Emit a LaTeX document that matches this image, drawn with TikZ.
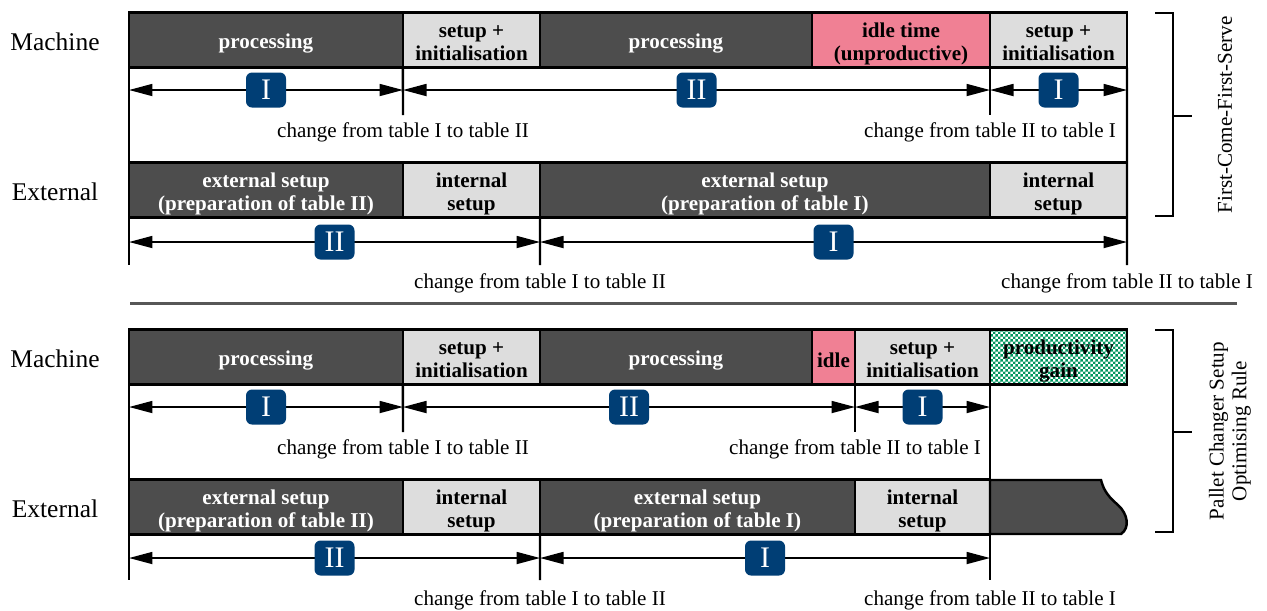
\documentclass[tikz,border=0pt]{standalone}
\usepackage{fontspec}
\setmainfont{Liberation Serif}
\usetikzlibrary{arrows.meta, patterns}
\definecolor{busygrey}{RGB}{77,77,77}
\definecolor{setupgrey}{RGB}{221,221,221}
\definecolor{idlepink}{RGB}{240,128,148}
\definecolor{tableblue}{RGB}{0,62,117}
\definecolor{gaingreen}{RGB}{0,150,95}
\pgfdeclarepatternformonly{finechecker}{\pgfqpoint{0pt}{0pt}}{\pgfqpoint{2.8pt}{2.8pt}}{\pgfqpoint{2.8pt}{2.8pt}}{%
	\pgfpathrectangle{\pgfqpoint{0pt}{0pt}}{\pgfqpoint{1.4pt}{1.4pt}}%
	\pgfpathrectangle{\pgfqpoint{1.4pt}{1.4pt}}{\pgfqpoint{1.4pt}{1.4pt}}%
	\pgfusepath{fill}}

\begin{document}
\begin{tikzpicture}[x=0.02cm, y=-0.02cm]
	\tikzstyle{slotbox}=[rectangle, draw=black, line width=1.4pt, outer sep=0pt,
	inner sep=1pt, minimum height=1.1cm, anchor=west, align=center,
	font=\fontsize{12}{13}\selectfont\bfseries,
	execute at begin node={\rule{0pt}{12.3pt}}]
	\tikzstyle{twoline}=[text height=25.9pt, text depth=2.6pt]
	\tikzstyle{busyslot}=[slotbox, fill=busygrey, text=white]
	\tikzstyle{setupslot}=[slotbox, twoline, fill=setupgrey]
	\tikzstyle{idleslot}=[slotbox, fill=idlepink]
	\tikzstyle{gainslot}=[slotbox, twoline, pattern=finechecker, pattern color=gaingreen]
	\tikzstyle{spanarrow}=[line width=1pt,
	{Triangle[length=0.47cm, width=0.24cm]}-{Triangle[length=0.47cm, width=0.24cm]}]
	\tikzstyle{cutline}=[line width=1.4pt]
	\tikzstyle{tablebox}=[rectangle, fill=tableblue, text=white, rounded corners=0.12cm,
	minimum width=0.8cm, minimum height=0.7cm, inner sep=0pt,
	font=\fontsize{17}{17}\selectfont]
	\tikzstyle{changelabel}=[anchor=base, font=\fontsize{12}{13}\selectfont]
	\tikzstyle{lane}=[anchor=base, font=\fontsize{14.5}{15}\selectfont]
	
	\useasboundingbox (0,0) rectangle (1267,610);
	
	% first come first serve
	\node[lane] (fmach) at (55,50) {Machine};
	\node[busyslot, minimum width=5.48cm] (fm1) at (129,40) {processing};
	\node[setupslot, minimum width=2.74cm] (fm2) at (403,40) {setup +\\initialisation};
	\node[busyslot, minimum width=5.44cm] (fm3) at (540,40) {processing};
	\node[idleslot, twoline, minimum width=3.56cm] (fm4) at (812,40) {idle time\\(unproductive)};
	\node[setupslot, minimum width=2.74cm] (fm5) at (990,40) {setup +\\initialisation};
	
	\node[lane] (fext) at (55,200) {External};
	\node[busyslot, twoline, minimum width=5.48cm] (fe1) at (129,190) {external setup\\(preparation of table II)};
	\node[setupslot, minimum width=2.74cm] (fe2) at (403,190) {internal\\setup};
	\node[busyslot, twoline, minimum width=9cm] (fe3) at (540,190) {external setup\\(preparation of table I)};
	\node[setupslot, minimum width=2.74cm] (fe4) at (990,190) {internal\\setup};
	
	\coordinate (fa0) at (129,90);
	\coordinate (fa1) at (403,90);
	\coordinate (fa2) at (990,90);
	\coordinate (fa3) at (1127,90);
	\coordinate (fb0) at (129,242);
	\coordinate (fb1) at (540,242);
	\coordinate (fb2) at (1127,242);
	\coordinate (fc1) at (403,115);
	\coordinate (fc2) at (990,115);
	\coordinate (fc3) at (540,265);
	\coordinate (fc4) at (1127,265);
	\coordinate (fc0) at (129,265);
	
	\draw[cutline] (fm1.south west) -- (fc0);
	\draw[cutline] (fm5.south east) -- (fc4);
	\draw[cutline] (fm1.south east) -- (fc1);
	\draw[cutline] (fm5.south west) -- (fc2);
	\draw[cutline] (fe2.south east) -- (fc3);
	
	\draw[spanarrow] (fa0) -- node[tablebox] {I} (fa1);
	\draw[spanarrow] (fa1) -- node[tablebox] {II} (fa2);
	\draw[spanarrow] (fa2) -- node[tablebox] {I} (fa3);
	\draw[spanarrow] (fb0) -- node[tablebox] {II} (fb1);
	\draw[spanarrow] (fb1) -- node[tablebox] {I} (fb2);
	
	\node[changelabel] (fl1) at (403,137) {change from table I to table II};
	\node[changelabel] (fl2) at (990,137) {change from table II to table I};
	\node[changelabel] (fl3) at (540,288) {change from table I to table II};
	\node[changelabel] (fl4) at (1127,288) {change from table II to table I};
	
	% separator
	\draw[line width=0.06cm, black!66] (130,303) -- (1237,303);
	
	% pallet changer setup optimising rule
	\node[lane] (pmach) at (55,367) {Machine};
	\node[busyslot, minimum width=5.48cm] (pm1) at (129,357) {processing};
	\node[setupslot, minimum width=2.74cm] (pm2) at (403,357) {setup +\\initialisation};
	\node[busyslot, minimum width=5.44cm] (pm3) at (540,357) {processing};
	\node[idleslot, minimum width=0.86cm] (pm4) at (812,357) {idle};
	\node[setupslot, minimum width=2.7cm] (pm5) at (855,357) {setup +\\initialisation};
	\node[gainslot, minimum width=2.74cm] (pm6) at (990,357) {productivity\\gain};
	
	\node[lane] (pext) at (55,517) {External};
	\node[busyslot, twoline, minimum width=5.48cm] (pe1) at (129,507) {external setup\\(preparation of table II)};
	\node[setupslot, minimum width=2.74cm] (pe2) at (403,507) {internal\\setup};
	\node[busyslot, twoline, minimum width=6.3cm] (pe3) at (540,507) {external setup\\(preparation of table I)};
	\node[setupslot, minimum width=2.7cm] (pe4) at (855,507) {internal\\setup};
	\draw[line width=1.4pt, fill=busygrey] (990,480) -- (1101,480)
	.. controls (1104,492) and (1110,498) .. (1118,505)
	.. controls (1128,514) and (1130,528) .. (1121,534) -- (990,534) -- cycle;
	
	\coordinate (pa0) at (129,407);
	\coordinate (pa1) at (403,407);
	\coordinate (pa2) at (855,407);
	\coordinate (pa3) at (990,407);
	\coordinate (pb0) at (129,558);
	\coordinate (pb1) at (540,558);
	\coordinate (pb2) at (990,558);
	\coordinate (pc1) at (403,432);
	\coordinate (pc2) at (855,432);
	\coordinate (pc3) at (540,580);
	\coordinate (pc4) at (990,580);
	\coordinate (pc0) at (129,580);
	
	\draw[cutline] (pm1.south west) -- (pc0);
	\draw[cutline] (pm6.south west) -- (pc4);
	\draw[cutline] (pm1.south east) -- (pc1);
	\draw[cutline] (pm5.south west) -- (pc2);
	\draw[cutline] (pe2.south east) -- (pc3);
	
	\draw[spanarrow] (pa0) -- node[tablebox] {I} (pa1);
	\draw[spanarrow] (pa1) -- node[tablebox] {II} (pa2);
	\draw[spanarrow] (pa2) -- node[tablebox] {I} (pa3);
	\draw[spanarrow] (pb0) -- node[tablebox] {II} (pb1);
	\draw[spanarrow] (pb1) -- node[tablebox] {I} (pb2);
	
	\node[changelabel] (pl1) at (403,454) {change from table I to table II};
	\node[changelabel] (pl2) at (855,454) {change from table II to table I};
	\node[changelabel] (pl3) at (540,605) {change from table I to table II};
	\node[changelabel] (pl4) at (990,605) {change from table II to table I};
	
	% brackets
	\draw[cutline] (1155,13) -- (1173,13) -- (1173,216) -- (1155,216);
	\draw[cutline] (1173,116) -- (1192,116);
	\node[rotate=90, font=\fontsize{12}{13}\selectfont] (fcfs) at (1225,115) {First-Come-First-Serve};
	\draw[cutline] (1155,330) -- (1173,330) -- (1173,532) -- (1155,532);
	\draw[cutline] (1173,432) -- (1192,432);
	\node[rotate=90, align=center, font=\fontsize{12}{13}\selectfont] (pcsor) at (1230,431) {Pallet Changer Setup\\Optimising Rule};
\end{tikzpicture}
\end{document}
